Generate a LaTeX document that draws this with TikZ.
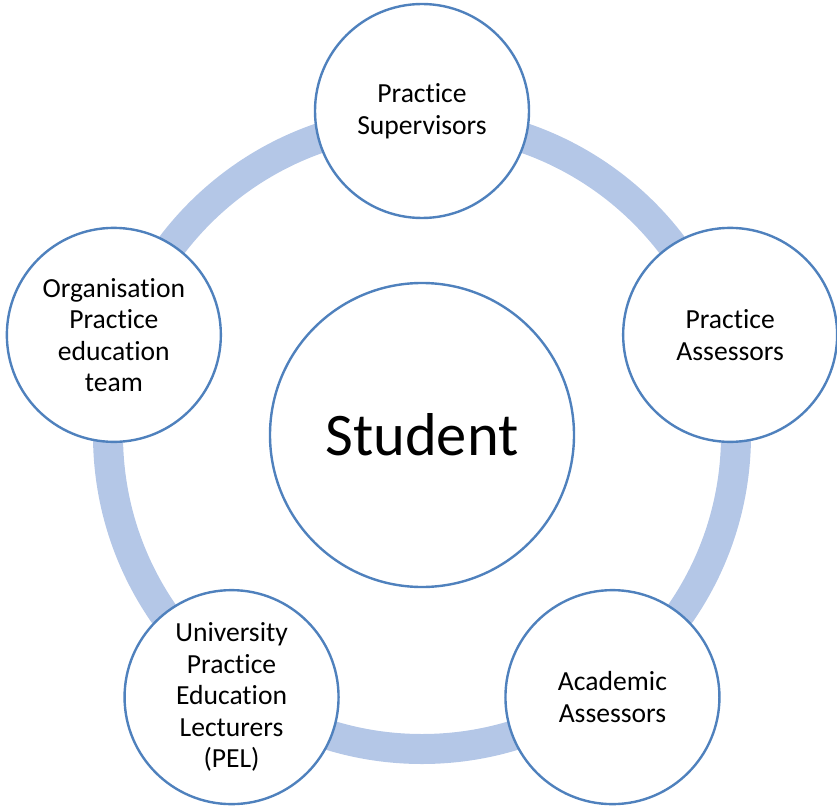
\documentclass[tikz,border=0pt]{standalone}
\usepackage{fontspec}
\setmainfont{Carlito}[Ligatures=NoCommon]
\usetikzlibrary{calc}
\definecolor{ringblue}{RGB}{180,199,231}
\definecolor{lineblue}{RGB}{79,129,189}

\begin{document}
\begin{tikzpicture}[x=1pt,y=1pt,
    ring/.style={draw=ringblue,line width=30pt},
    member/.style={circle,draw=lineblue,line width=2.4pt,fill=white,
        minimum size=214pt,inner sep=0pt,align=center,
        font=\fontsize{27.6}{31.5}\selectfont},
    hub/.style={circle,draw=lineblue,line width=2.4pt,fill=white,
        minimum size=304pt,inner sep=0pt,
        font=\fontsize{60.5}{70}\selectfont}]
    \useasboundingbox (0,0) rectangle (837,-805);
    \coordinate (O) at (422,-435);
    % the ring behind the circles
    \draw[ring] (O) circle (314);
    \node[hub] (S) at (O) {Student};
    \node[member] (PS) at ($(O)+(90:324)$) {Practice\\Supervisors};
    \node[member] (PA) at ($(O)+(18:324)$) {Practice\\Assessors};
    \node[member] (AA) at ($(O)+(-54:324)$) {Academic\\Assessors};
    \node[member] (PEL) at ($(O)+(-126:324)$) {University\\Practice\\Education\\Lecturers\\(PEL)};
    \node[member] (OPE) at ($(O)+(162:324)$) {Organisation\\Practice\\education\\team};
\end{tikzpicture}
\end{document}
